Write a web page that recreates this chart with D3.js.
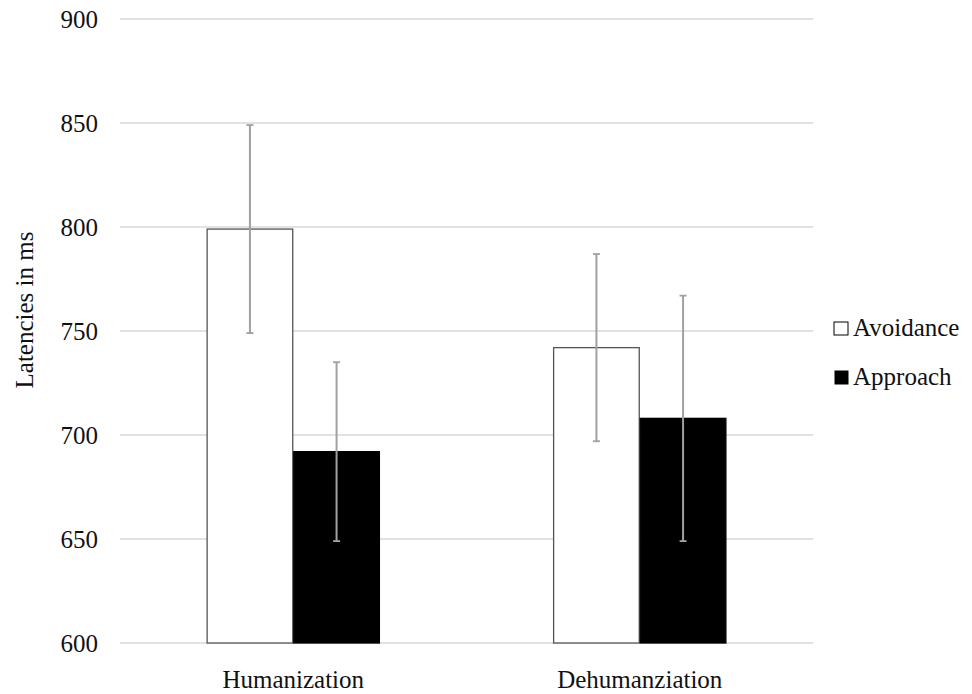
<!DOCTYPE html>
<html>
<head>
<meta charset="utf-8">
<script src="https://cdn.jsdelivr.net/npm/d3@7"></script>
<style>
  html, body { margin: 0; padding: 0; background: #fff; }
  svg text { font-family: "Liberation Serif", "Times New Roman", Times, "DejaVu Serif", serif !important; fill: #111; }
</style>
</head>
<body>
<svg id="chart" width="972" height="694"></svg>
<script>
const categories = ["Humanization", "Dehumanziation"];
const seriesNames = ["Avoidance", "Approach"];
const avoidance = [799, 742];
const approach = [692, 708];
const avoidanceErr = [50, 45];
const approachErr = [43, 59];
const yTicks = [600, 650, 700, 750, 800, 850, 900];
const yTitle = "Latencies in ms";

(function () {
const FONT = "'Liberation Serif', 'Times New Roman', Times, 'DejaVu Serif', serif";
const svg = d3.select("#chart").attr("font-family", FONT);
const pLeft = 120, pRight = 813, pTop = 19, pBottom = 643;

const y = d3.scaleLinear().domain([600, 900]).range([pBottom, pTop]);
const x0 = d3.scaleBand().domain(categories).range([pLeft, pRight]).paddingInner(0.5).paddingOuter(0.25);
const x1 = d3.scaleBand().domain(seriesNames).range([0, x0.bandwidth()]).padding(0);

// gridlines
svg.append("g").selectAll("line").data(yTicks).join("line")
  .attr("x1", pLeft).attr("x2", pRight)
  .attr("y1", d => y(d)).attr("y2", d => y(d))
  .attr("stroke", "#d9d9d9").attr("stroke-width", 1.3);

// y axis labels
const yAxis = d3.axisLeft(y).tickValues(yTicks).tickSize(0).tickPadding(0).tickFormat(d3.format("d"));
const ya = svg.append("g").attr("transform", `translate(98,0)`).call(yAxis).attr("font-family", FONT).attr("font-size", 25);
ya.select(".domain").remove();
ya.selectAll("text").attr("fill", "#111").attr("dy", "0.33em");

// y title
svg.append("text")
  .attr("transform", `translate(33,310) rotate(-90)`)
  .attr("text-anchor", "middle")
  .attr("font-size", 25)
  .text(yTitle);

// x labels
const xAxis = d3.axisBottom(x0).tickSize(0).tickPadding(0);
const xa = svg.append("g").attr("transform", `translate(0,${pBottom})`).call(xAxis).attr("font-family", FONT).attr("font-size", 25);
xa.select(".domain").remove();
xa.selectAll("text").attr("fill", "#111").attr("dy", null).attr("y", 45);

const rows = categories.map((c, i) => ({
  cat: c,
  vals: [
    { s: "Avoidance", v: avoidance[i], e: avoidanceErr[i] },
    { s: "Approach", v: approach[i], e: approachErr[i] }
  ]
}));

const fill = { Avoidance: "#ffffff", Approach: "#000000" };
const stroke = { Avoidance: "#555555", Approach: "#000000" };

const groups = svg.append("g").selectAll("g").data(rows).join("g")
  .attr("transform", d => `translate(${x0(d.cat)},0)`);

groups.selectAll("rect").data(d => d.vals).join("rect")
  .attr("x", d => x1(d.s) + 0.5)
  .attr("width", x1.bandwidth() - 1)
  .attr("y", d => y(d.v))
  .attr("height", d => y(600) - y(d.v))
  .attr("fill", d => fill[d.s])
  .attr("stroke", d => stroke[d.s])
  .attr("stroke-width", 1.3);

// error bars
const eb = groups.selectAll("g.err").data(d => d.vals).join("g").attr("class", "err");
const cx = d => x1(d.s) + x1.bandwidth() / 2;
eb.append("line")
  .attr("x1", cx).attr("x2", cx)
  .attr("y1", d => y(d.v + d.e)).attr("y2", d => y(d.v - d.e))
  .attr("stroke", "#a0a0a0").attr("stroke-width", 2);
[1, -1].forEach(sign => {
  eb.append("line")
    .attr("x1", d => cx(d) - 3.5).attr("x2", d => cx(d) + 3.5)
    .attr("y1", d => y(d.v + sign * d.e)).attr("y2", d => y(d.v + sign * d.e))
    .attr("stroke", "#a0a0a0").attr("stroke-width", 1.8);
});

// legend
const legendY = [336, 385];
const legend = svg.append("g").selectAll("g").data(seriesNames).join("g")
  .attr("transform", (d, i) => `translate(834,${legendY[i]})`);
legend.append("rect")
  .attr("x", d => d === "Approach" ? 1 : 0)
  .attr("y", -14)
  .attr("width", d => d === "Approach" ? 13 : 14)
  .attr("height", d => d === "Approach" ? 13 : 13)
  .attr("fill", d => fill[d])
  .attr("stroke", "#000").attr("stroke-width", 1);
legend.append("text")
  .attr("x", 19).attr("y", 0)
  .attr("font-size", 25)
  .text(d => d);
})();
</script>
</body>
</html>
